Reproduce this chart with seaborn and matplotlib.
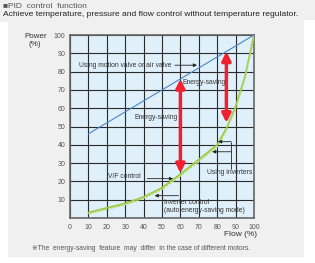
import numpy as np
import pandas as pd
import matplotlib
matplotlib.use("Agg")
from matplotlib import pyplot as plt
from matplotlib.patches import Rectangle
import seaborn as sns

# data
flow = [10, 20, 30, 40, 50, 60, 70, 75, 80, 85, 90, 95, 100]
vf_power = [3, 5.5, 8, 11.5, 16.5, 24, 32, 36, 40, 49, 61, 77, 100]
inverter_power = [2.3, 4.8, 7.3, 10.8, 15.7, 23, 31, 35, 39, 48, 60, 76, 99]
valve_flow = [10, 100]
valve_power = [46, 100]
# red "energy-saving" arrows: flow position, lower end, upper end
saving_flow = [60, 85]
saving_low = [24.5, 52]
saving_high = [76, 91]
x_ticks = list(range(0, 101, 10))
y_ticks = list(range(10, 101, 10))

W, H = 315, 263
sns.set_style("white")
plt.rcParams['font.family'] = ['Liberation Sans', 'DejaVu Sans']

fig = plt.figure(figsize=(W / 100, H / 100), dpi=100)
fig.patch.set_facecolor("#f0f0f0")


def fx(px):
    return px / W


def fy(py):
    return 1 - py / H


# white margins around the grey panel
for x0, y0, w, h in [(0, 257, W, 6), (304, 20, 11, 243), (0, 22, 8, 241)]:
    fig.patches.append(Rectangle((fx(x0), fy(y0 + h)), w / W, h / H,
                                 transform=fig.transFigure, facecolor="white",
                                 edgecolor="none", zorder=0))

ax = fig.add_axes([fx(70), fy(218), 184 / W, 183 / H])
ax.set_facecolor("#dff0fb")

df_vf = pd.DataFrame({"flow": flow, "power": vf_power})
df_inv = pd.DataFrame({"flow": flow, "power": inverter_power})
df_valve = pd.DataFrame({"flow": valve_flow, "power": valve_power})

sns.lineplot(data=df_valve, x="flow", y="power", ax=ax, color="#4a86c5", lw=0.8, zorder=3)
sns.lineplot(data=df_vf, x="flow", y="power", ax=ax, color="#9cc83a", lw=1.2, zorder=3)
sns.lineplot(data=df_inv, x="flow", y="power", ax=ax, color="#b5d66a", lw=1.2,
             linestyle=(0, (1.2, 0.8)), zorder=3)

ax.set_xlim(0, 100)
ax.set_ylim(0, 100)
ax.set_xticks(x_ticks)
ax.set_yticks(y_ticks)
ax.grid(True, color="#2a2a2a", lw=0.8)
ax.set_axisbelow(True)
ax.tick_params(length=0, labelsize=5, colors="#555555")
ax.tick_params(axis="y", pad=3.5)
ax.tick_params(axis="x", pad=4)
ax.set_xlabel("")
ax.set_ylabel("")
for s in ax.spines.values():
    s.set_color("#666666")
    s.set_linewidth(1.2)

# red double arrows
for xf, lo, hi in zip(saving_flow, saving_low, saving_high):
    ax.annotate("", xy=(xf, hi), xytext=(xf, lo),
                arrowprops=dict(arrowstyle="<|-|>", color="#f02030", lw=2.5,
                                mutation_scale=13, shrinkA=0, shrinkB=0), zorder=5)

txt = dict(fontsize=4.9, color="#333333", va="center")
arr = dict(arrowstyle="-|>", color="#222222", lw=0.6, mutation_scale=5, shrinkA=0, shrinkB=0)

ax.text(5, 83.5, "Using motion valve or air valve", **txt)
ax.annotate("", xy=(69, 83.5), xytext=(57, 83.5), arrowprops=arr)
ax.text(61, 74, "Energy-saving", **txt)
ax.text(35, 55, "Energy-saving", **txt)
ax.text(20.5, 22.5, "V/F control", **txt)
ax.annotate("", xy=(56, 21.5), xytext=(42, 21.5), arrowprops=arr)
ax.annotate("", xy=(46, 12.2), xytext=(59, 12.2), arrowprops=arr)
ax.text(51, 8.5, "Inverter control", **txt)
ax.text(51, 4, "(auto energy-saving mode)", **txt)
ax.text(74.5, 24.8, "Using inverters", **txt)
ax.plot([87.5, 87.5], [27, 41.7], color="#222222", lw=0.6)
ax.annotate("", xy=(80.5, 41.7), xytext=(87.5, 41.7), arrowprops=arr)
ax.annotate("", xy=(77.3, 36.2), xytext=(87.5, 36.2), arrowprops=arr)

# figure texts
fig.text(fx(3), fy(7), "\u25a0PID  control  function", fontsize=6, color="#555555", va="center")
fig.text(fx(3), fy(15), "Achieve temperature, pressure and flow control without temperature regulator.",
         fontsize=6.1, color="#222222", va="center")
fig.text(fx(36), fy(36), "Power", fontsize=5.8, color="#333333", va="center", ha="center")
fig.text(fx(35), fy(45), "(%)", fontsize=5.8, color="#333333", va="center", ha="center")
fig.text(fx(241), fy(234), "Flow (%)", fontsize=6, color="#333333", va="center", ha="center")
fig.text(fx(32), fy(248), "\u203bThe  energy-saving  feature  may  differ  in the case of different motors.",
         fontsize=4.9, color="#555555", va="center")

fig.savefig("out.png", dpi=100, facecolor=fig.get_facecolor())
